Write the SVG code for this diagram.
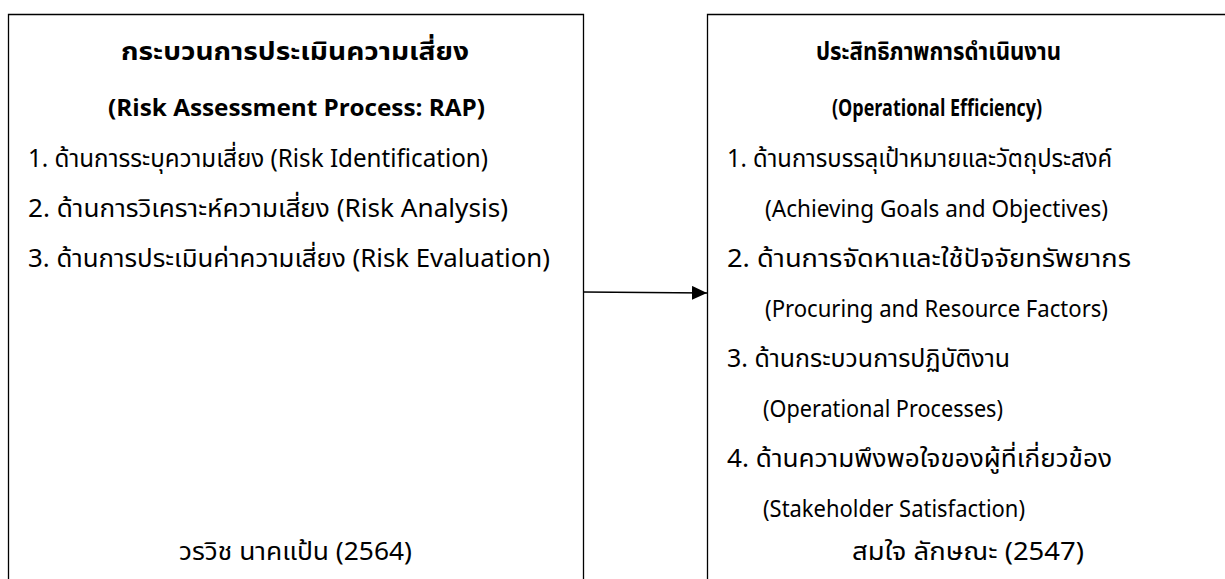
<svg xmlns="http://www.w3.org/2000/svg" width="1225" height="579" viewBox="0 0 1225 579">
  <defs>
    <style>
      .box { fill: none; stroke: #000; stroke-width: 1.3; }
      .t { font-family: "Noto Sans Thai", "Noto Sans", "Liberation Sans", sans-serif; font-size: 25px; fill: #000; }
      .e { font-size: 23px; }
      .b { font-weight: bold; }
      .c { text-anchor: middle; }
      .conn { stroke: #000; stroke-width: 1.3; fill: none; }
    </style>
    <marker id="arrow" markerWidth="15" markerHeight="14" refX="15" refY="7" orient="auto" markerUnits="userSpaceOnUse">
      <path d="M0,0 L15,7 L0,14 Z" fill="#000"/>
    </marker>
  </defs>
  <rect width="1225" height="579" fill="#fff"/>

  <g id="node-rap">
    <path class="box" d="M8.5,580 V14.5 H583.5 V580"/>
    <text class="t b" x="121" y="60" textLength="348" lengthAdjust="spacingAndGlyphs">กระบวนการประเมินความเสี่ยง</text>
    <text class="t e b" x="108" y="116" textLength="377" lengthAdjust="spacingAndGlyphs">(Risk Assessment Process: RAP)</text>
    <text class="t" x="28" y="167" textLength="460" lengthAdjust="spacingAndGlyphs">1. ด้านการระบุความเสี่ยง (Risk Identification)</text>
    <text class="t" x="28" y="217" textLength="480" lengthAdjust="spacingAndGlyphs">2. ด้านการวิเคราะห์ความเสี่ยง (Risk Analysis)</text>
    <text class="t" x="28" y="267" textLength="522" lengthAdjust="spacingAndGlyphs">3. ด้านการประเมินค่าความเสี่ยง (Risk Evaluation)</text>
    <text class="t" x="179" y="560" textLength="233" lengthAdjust="spacingAndGlyphs">วรวิช นาคแป้น (2564)</text>
  </g>

  <g id="node-oe">
    <path class="box" d="M707.5,580 V14.5 H1226"/>
    <text class="t b" x="816" y="60" textLength="245" lengthAdjust="spacingAndGlyphs">ประสิทธิภาพการดำเนินงาน</text>
    <text class="t e b" x="832" y="116" textLength="210" lengthAdjust="spacingAndGlyphs">(Operational Efficiency)</text>
    <text class="t" x="727" y="167" textLength="385" lengthAdjust="spacingAndGlyphs">1. ด้านการบรรลุเป้าหมายและวัตถุประสงค์</text>
    <text class="t e" x="765" y="217" textLength="343" lengthAdjust="spacingAndGlyphs">(Achieving Goals and Objectives)</text>
    <text class="t" x="727" y="267" textLength="404" lengthAdjust="spacingAndGlyphs">2. ด้านการจัดหาและใช้ปัจจัยทรัพยากร</text>
    <text class="t e" x="765" y="317" textLength="343" lengthAdjust="spacingAndGlyphs">(Procuring and Resource Factors)</text>
    <text class="t" x="727" y="367" textLength="283" lengthAdjust="spacingAndGlyphs">3. ด้านกระบวนการปฏิบัติงาน</text>
    <text class="t e" x="763" y="417" textLength="240" lengthAdjust="spacingAndGlyphs">(Operational Processes)</text>
    <text class="t" x="727" y="467" textLength="385" lengthAdjust="spacingAndGlyphs">4. ด้านความพึงพอใจของผู้ที่เกี่ยวข้อง</text>
    <text class="t e" x="763" y="517" textLength="262" lengthAdjust="spacingAndGlyphs">(Stakeholder Satisfaction)</text>
    <text class="t" x="852" y="560" textLength="232" lengthAdjust="spacingAndGlyphs">สมใจ ลักษณะ (2547)</text>
  </g>

  <g id="connectors">
    <line class="conn" x1="583.5" y1="292" x2="707" y2="293" marker-end="url(#arrow)"/>
  </g>
</svg>
